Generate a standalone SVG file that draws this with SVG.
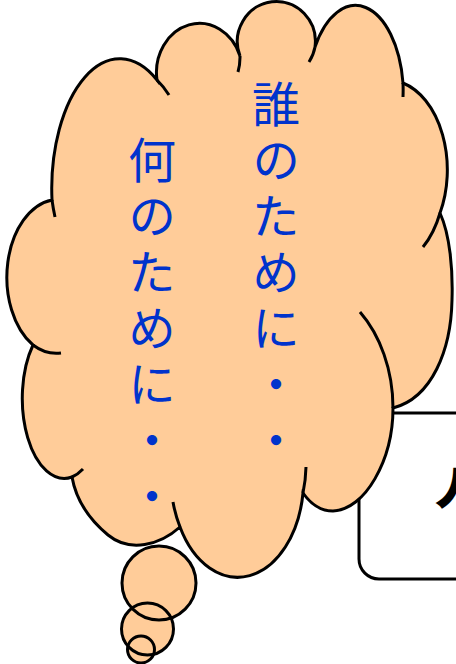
<svg xmlns="http://www.w3.org/2000/svg" width="456" height="664" viewBox="0 0 456 664">
<style>
.ln{fill:none;stroke:#000;stroke-width:3}
.cl{fill:#FFCC99;stroke:#000;stroke-width:3}
.vt{font-family:"Noto Sans CJK JP","Noto Sans CJK SC",sans-serif;font-size:48px;fill:#0033CC;writing-mode:vertical-rl;letter-spacing:8px}
</style>
<rect width="456" height="664" fill="#fff"/>
<g id="box">
<rect x="359" y="413" width="150" height="166" rx="20" fill="#fff" stroke="#000" stroke-width="3"/>
<text x="437" y="504" font-family="Noto Sans CJK JP, sans-serif" font-weight="bold" font-size="42" fill="#000" stroke="#000" stroke-width="2.5">人</text>
</g>
<g id="cloud">
<path class="cl" d="M52 200 A68 130 0 0 1 157 80 A43 49 0 0 1 240 56 A39 40 0 1 1 315 47 A48 90 0 0 1 403 83 A60 90 0 0 1 440 213 C450 235 453 270 452 300 C451 350 432 398 393 408 C393 460 365 510 333 511 C320 511 310 503 303 493 A66 98 0 0 1 180 527 C160 545 130 553 108 535 C90 520 76 500 72 477 A42 80 0 0 1 33 345 A52 78 0 0 1 52 200 Z"/>
<path class="ln" d="M52 200 A68 130 0 0 0 55 217 M157 80 A68 130 0 0 1 169 95 M240 56 A43 49 0 0 1 238 72 M315 47 A39 40 0 0 1 309 62 M403 83 A48 90 0 0 1 403 97 M440 213 A60 90 0 0 1 423 247 M393 408 C393 370 380 335 360 312 M303 493 A66 98 0 0 0 306 467 M180 527 A66 98 0 0 1 173 502 M72 477 A42 80 0 0 0 83 469 M33 345 A52 78 0 0 0 61 353"/>
<text class="vt" x="276" y="80">誰のために・・</text>
<text class="vt" x="152" y="136">何のために・・・</text>
</g>
<g id="bubbles">
<circle cx="159" cy="583" r="37" fill="#FFCC99"/>
<circle cx="147.5" cy="629" r="26" fill="#FFCC99"/>
<circle cx="141" cy="649.5" r="13.5" fill="#FFCC99"/>
<circle class="ln" cx="159" cy="583" r="37"/>
<circle class="ln" cx="147.5" cy="629" r="26"/>
<circle class="ln" cx="141" cy="649.5" r="13.5"/>
</g>
</svg>
